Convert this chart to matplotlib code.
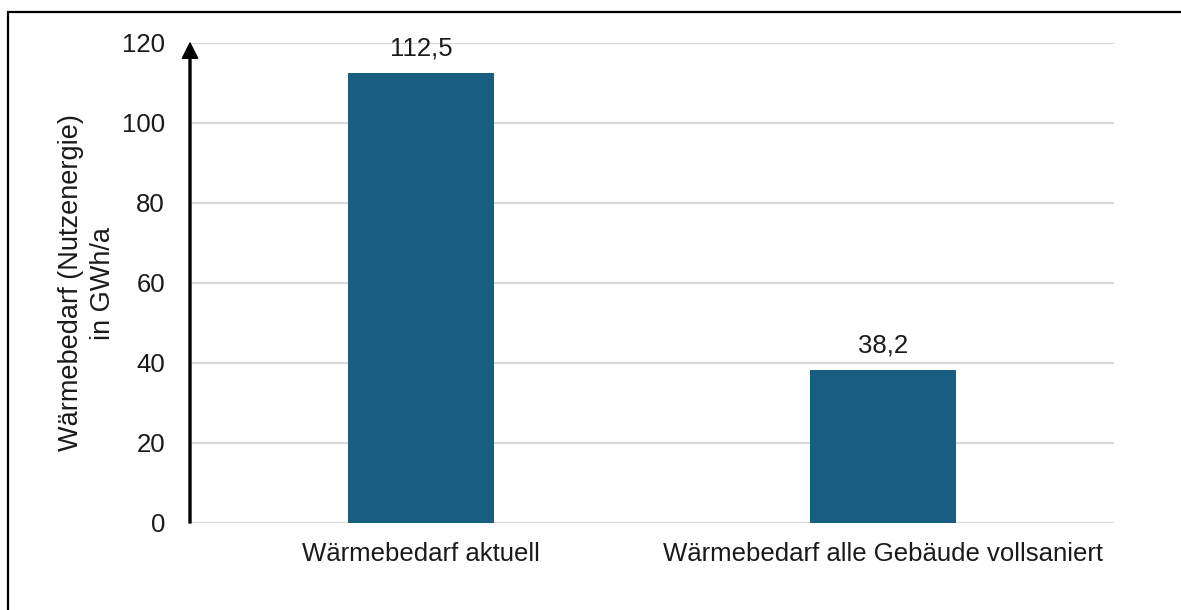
import matplotlib
matplotlib.use("Agg")
import matplotlib.pyplot as plt
from matplotlib.patches import Rectangle

categories = ["Wärmebedarf aktuell", "Wärmebedarf alle Gebäude vollsaniert"]
values = [112.5, 38.2]
value_labels = ["112,5", "38,2"]
yticks = [0, 20, 40, 60, 80, 100, 120]

plt.rcParams['font.family'] = ['Liberation Sans', 'DejaVu Sans']
FS = 18.5

fig = plt.figure(figsize=(11.81, 6.10), dpi=100)
ax = fig.add_axes([190/1181, 1-523/610, (1114-190)/1181, (523-43)/610])

x = list(range(len(categories)))
ax.bar(x, values, width=0.314, color="#185e82", zorder=3)
for xi, v, lab in zip(x, values, value_labels):
    ax.text(xi, v + 3.2, lab, ha="center", va="bottom", fontsize=FS, color="#1a1a1a",
            zorder=4)

ax.set_xlim(-0.5, 1.5)
ax.set_ylim(0, 120)
ax.set_yticks(yticks)
ax.set_yticklabels([str(t) for t in yticks])
ax.set_xticks(x)
ax.set_xticklabels(categories)
ax.tick_params(axis="both", length=0, labelsize=FS, colors="#1a1a1a")
ax.tick_params(axis="y", pad=18)
ax.tick_params(axis="x", pad=14)
ax.grid(axis="y", color="#d9d9d9", lw=1.6, zorder=0)
ax.set_axisbelow(True)
for s in ax.spines.values():
    s.set_visible(False)

ax.annotate("", xy=(0, 1.0), xytext=(0, 0), xycoords="axes fraction",
            textcoords="axes fraction",
            arrowprops=dict(width=1.4, headwidth=11, headlength=11, shrink=0,
                            color="black"), zorder=5)

ax.set_ylabel("Wärmebedarf (Nutzenergie)\nin GWh/a", fontsize=19.5, color="#1a1a1a",
              linespacing=1.28)
ax.yaxis.set_label_coords(-0.080, 0.5)

fig.patches.append(Rectangle((8/1181, -0.05), 1.1, 1-12/610+0.05,
                             transform=fig.transFigure, fill=False,
                             edgecolor="black", lw=1.6))

fig.savefig("out.png", dpi=100)
